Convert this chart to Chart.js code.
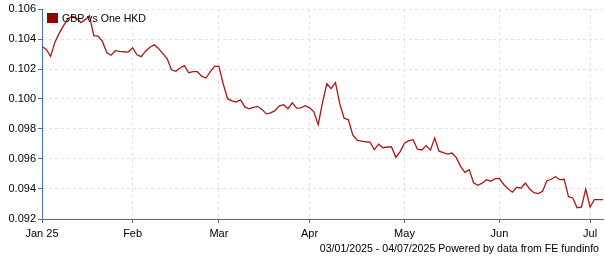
<!DOCTYPE html>
<html>
<head>
<meta charset="utf-8">
<script src="https://cdn.jsdelivr.net/npm/chart.js@4"></script>
<style>
  html,body{margin:0;padding:0;background:#fff;}
  #wrap{position:relative;width:605px;height:260px;}
  #legend{position:absolute;left:47px;top:12px;font:10.6px "Liberation Sans",Arial,sans-serif;color:#000;display:flex;align-items:center;}
  #legend .box{width:11px;height:10px;background:#990000;margin-right:4px;}
  #footer{position:absolute;right:6px;top:242px;font:10.6px "Liberation Sans",Arial,sans-serif;color:#000;white-space:nowrap;}
</style>
</head>
<body>
<div id="wrap">
  <canvas id="c" width="605" height="260"></canvas>
  <div id="legend"><span class="box"></span><span id="legendText"></span></div>
  <div id="footer">03/01/2025 - 04/07/2025 Powered by data from FE fundinfo</div>
</div>
<script>
// Series: GBP vs One HKD, one value per weekday, 03/01/2025 .. 04/07/2025
const seriesName = 'GBP vs One HKD';
const values = [
  0.1035, 0.1033, 0.10285, 0.10379, 0.10439, 0.10489, 0.10535, 0.10552, 0.10539, 0.10509,
  0.10529, 0.10555, 0.10422, 0.10419, 0.10384, 0.10309, 0.10292, 0.10322, 0.10318, 0.10315,
  0.10313, 0.10342, 0.10295, 0.10282, 0.10319, 0.10345, 0.10362, 0.10337, 0.10303, 0.10269,
  0.10195, 0.10185, 0.10207, 0.10222, 0.10175, 0.10182, 0.10182, 0.10152, 0.1014, 0.10182,
  0.10217, 0.10217, 0.1010, 0.10002, 0.09987, 0.09979, 0.09995, 0.09947, 0.09935, 0.09944,
  0.09951, 0.09929, 0.09901, 0.09907, 0.09922, 0.09955, 0.09962, 0.09935, 0.09975, 0.09939,
  0.09941, 0.09955, 0.09941, 0.09915, 0.09829, 0.09975, 0.10102, 0.10069, 0.10109, 0.09969,
  0.09872, 0.09862, 0.09762, 0.09725, 0.09719, 0.09715, 0.09712, 0.09662, 0.09699, 0.09675,
  0.0968, 0.0968, 0.09611, 0.09649, 0.09705, 0.09722, 0.09729, 0.09665, 0.0966, 0.09689,
  0.09659, 0.0974, 0.09652, 0.09642, 0.09633, 0.0964, 0.09609, 0.09551, 0.09511, 0.09529,
  0.09442, 0.09425, 0.09439, 0.09462, 0.09452, 0.09469, 0.09469, 0.0943, 0.09402, 0.09379,
  0.09412, 0.09405, 0.09439, 0.094, 0.09375, 0.09369, 0.09385, 0.09455, 0.09465, 0.09482,
  0.09462, 0.09465, 0.09349, 0.0934, 0.09275, 0.09279, 0.094, 0.0928, 0.09329, 0.09329,
  0.09329
];
// Month tick positions (index of first trading day of each month) and labels
const monthTickIdx = [0, 21, 41, 62, 84, 106, 127];
const monthTickLabels = ['Jan 25', 'Feb', 'Mar', 'Apr', 'May', 'Jun', 'Jul'];
// Y axis ticks
const yTicks = [0.092, 0.094, 0.096, 0.098, 0.100, 0.102, 0.104, 0.106];

document.getElementById('legendText').textContent = seriesName;

const axisColor = '#4572a7';
const gridColor = '#e2e2e2';
const fontSpec = {family: '"Liberation Sans", Arial, sans-serif', size: 11};

new Chart(document.getElementById('c'), {
  type: 'line',
  data: {
    datasets: [{
      label: seriesName,
      data: values.map((v, i) => ({x: i, y: v})),
      borderColor: '#a81818',
      borderWidth: 1.3,
      pointRadius: 0,
      tension: 0,
      fill: false
    }]
  },
  options: {
    responsive: false,
    animation: false,
    devicePixelRatio: 1,
    layout: {padding: {left: 0, right: 2, top: 9, bottom: 0}},
    plugins: {legend: {display: false}, tooltip: {enabled: false}},
    scales: {
      x: {
        type: 'linear',
        min: 0,
        max: values.length - 1,
        afterBuildTicks: axis => { axis.ticks = monthTickIdx.map(v => ({value: v})); },
        afterFit: s => { s.height = 41; },
        ticks: {
          autoSkip: false,
          maxRotation: 0,
          padding: 4,
          color: '#000',
          font: fontSpec,
          callback: v => { const k = monthTickIdx.indexOf(v); return k >= 0 ? monthTickLabels[k] : ''; }
        },
        grid: {
          color: ctx => (ctx.tick && ctx.tick.value === 0) ? 'rgba(0,0,0,0)' : gridColor,
          tickColor: axisColor, tickLength: 4, tickBorderDash: []
        },
        border: {color: axisColor, width: 1, dash: [3, 3]}
      },
      y: {
        min: yTicks[0],
        max: yTicks[yTicks.length - 1],
        afterBuildTicks: axis => { axis.ticks = yTicks.map(v => ({value: v})); },
        afterFit: s => { s.width = 42; },
        ticks: {
          padding: 2,
          color: '#000',
          font: fontSpec,
          callback: v => Number(v).toFixed(3)
        },
        grid: {
          color: ctx => (ctx.tick && Math.abs(ctx.tick.value - yTicks[0]) < 1e-9) ? 'rgba(0,0,0,0)' : gridColor,
          tickColor: axisColor, tickLength: 4, tickBorderDash: []
        },
        border: {color: axisColor, width: 1, dash: [3, 3]}
      }
    }
  }
});
</script>
</body>
</html>
